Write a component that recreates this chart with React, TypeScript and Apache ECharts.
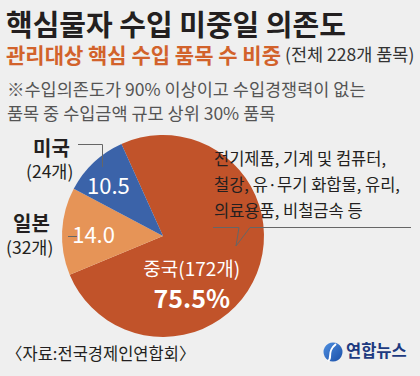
import React, { useEffect, useRef } from "react";
import * as echarts from "echarts";

const countries = ["중국", "일본", "미국"];
const counts = [172, 32, 24];
const shares = [75.5, 14.0, 10.5];
const colors = ["#c1532a", "#e69457", "#3b63a9"];
const noteLines = ["※수입의존도가 90% 이상이고 수입경쟁력이 없는", "품목 중 수입금액 규모 상위 30% 품목"];
const itemLines = ["전기제품, 기계 및 컴퓨터,", "철강, 유·무기 화합물, 유리,", "의료용품, 비철금속 등"];

const FONT = "'Noto Sans CJK KR', 'Noto Sans', sans-serif";

export default function App() {
  const ref = useRef<HTMLDivElement>(null);
  useEffect(() => {
    document.body.style.margin = "0";
    const chart = echarts.init(ref.current!, null, { renderer: "svg" });
    const labelOffsets = [
      { dx: -21, dy: 27 },
      { dx: -16, dy: 0 },
      { dx: -18, dy: -13 },
    ];
    const option: any = {
      animation: false,
      backgroundColor: "#efefef",
      textStyle: { fontFamily: FONT },
      title: [
        {
          text: "핵심물자 수입 미중일 의존도",
          left: 6,
          top: 6,
          padding: 0,
          textStyle: { fontSize: 29, lineHeight: 34, fontWeight: "bold", color: "#231f20", fontFamily: FONT },
        },
        {
          text: "{a|관리대상 핵심 수입 품목 수 비중} {b|(전체 228개 품목)}",
          left: 6,
          top: 43,
          padding: 0,
          textStyle: {
            fontFamily: FONT,
            fontWeight: "normal",
            rich: {
              a: { fontSize: 21, fontWeight: "bold", color: "#d2622b", fontFamily: FONT },
              b: { fontSize: 17.5, fontWeight: "normal", color: "#333", fontFamily: FONT },
            },
          },
        },
        {
          text: noteLines.join("\n"),
          left: 7,
          top: 76,
          padding: 0,
          textStyle: { fontSize: 17.5, lineHeight: 24, color: "#555", fontWeight: "normal", fontFamily: FONT },
        },
      ],
      series: [
        {
          type: "pie",
          center: [163, 236],
          radius: 101,
          startAngle: 114.3,
          clockwise: true,
          silent: true,
          z: 1,
          itemStyle: { borderWidth: 0 },
          label: {
            position: "inside",
            color: "#fff",
            fontFamily: FONT,
            formatter: (p: any) => {
              if (p.dataIndex === 0) {
                return `{n|${countries[0]}(${counts[0]}개)}\n{p|${shares[0].toFixed(1)}%}`;
              }
              return `{v|${shares[p.dataIndex].toFixed(1)}}`;
            },
            rich: {
              n: { fontSize: 19, color: "#fff", fontFamily: FONT, lineHeight: 28 },
              p: { fontSize: 25, fontWeight: "bold", color: "#fff", fontFamily: FONT, lineHeight: 30 },
              v: { fontSize: 22, color: "#fff", fontFamily: FONT },
            },
          },
          labelLayout: (params: any) => labelOffsets[params.dataIndex],
          labelLine: { show: false },
          data: countries.map((c, i) => ({
            name: c,
            value: shares[i],
            itemStyle: { color: colors[i] },
          })),
        },
      ],
      graphic: {
        elements: [
          // 미국 label
          {
            type: "text",
            left: 33,
            top: 136,
            z: 100,
            style: { text: countries[2], fontSize: 20, lineHeight: 22, fontWeight: "bold", fill: "#231f20", fontFamily: FONT },
          },
          {
            type: "text",
            left: 26,
            top: 160,
            z: 100,
            style: { text: `(${counts[2]}개)`, fontSize: 17.5, lineHeight: 20, fill: "#231f20", fontFamily: FONT },
          },
          {
            type: "polyline",
            z: 100,
            shape: { points: [[78, 144.5], [102.5, 144.5], [102.5, 167]] },
            style: { stroke: "#666", lineWidth: 1, fill: null },
          },
          // 일본 label
          {
            type: "text",
            left: 13,
            top: 211,
            z: 100,
            style: { text: countries[1], fontSize: 20, lineHeight: 22, fontWeight: "bold", fill: "#231f20", fontFamily: FONT },
          },
          {
            type: "text",
            left: 6,
            top: 236,
            z: 100,
            style: { text: `(${counts[1]}개)`, fontSize: 17.5, lineHeight: 20, fill: "#231f20", fontFamily: FONT },
          },
          {
            type: "line",
            z: 100,
            shape: { x1: 68, y1: 236.5, x2: 77, y2: 236.5 },
            style: { stroke: "#666", lineWidth: 1 },
          },
          // items callout
          {
            type: "text",
            left: 214,
            top: 145,
            z: 100,
            style: { text: itemLines.join("\n"), fontSize: 16.5, lineHeight: 26, fill: "#231f20", fontFamily: FONT },
          },
          {
            type: "polyline",
            z: 100,
            shape: { points: [[213, 227.5], [239, 227.5], [236, 246], [250, 227.5], [411, 227.5]] },
            style: { stroke: "#666", lineWidth: 1, fill: null },
          },
          // source
          {
            type: "text",
            left: 6,
            top: 345,
            z: 100,
            style: { text: "〈자료:전국경제인연합회〉", fontSize: 16.5, fill: "#231f20", fontFamily: FONT },
          },
          // logo
          {
            type: "circle",
            z: 100,
            shape: { cx: 333, cy: 352, r: 9.5 },
            style: {
              fill: new echarts.graphic.LinearGradient(0, 0, 1, 1, [
                { offset: 0, color: "#4f8fe0" },
                { offset: 1, color: "#1a4fa8" },
              ]),
            },
          },
          {
            type: "bezierCurve",
            z: 101,
            shape: { x1: 336, y1: 344, x2: 328, y2: 361, cpx1: 326, cpy1: 352, cpx2: 333, cpy2: 358 },
            style: { stroke: "#fff", lineWidth: 2, fill: null },
          },
          {
            type: "text",
            left: 346,
            top: 342,
            z: 100,
            style: { text: "연합뉴스", fontSize: 16.5, fontWeight: "bold", fill: "#1d3a80", fontFamily: FONT },
          },
        ],
      },
    };
    chart.setOption(option);
    return () => chart.dispose();
  }, []);
  return <div ref={ref} style={{ position: "fixed", left: 0, top: 0, width: 420, height: 376 }} />;
}
